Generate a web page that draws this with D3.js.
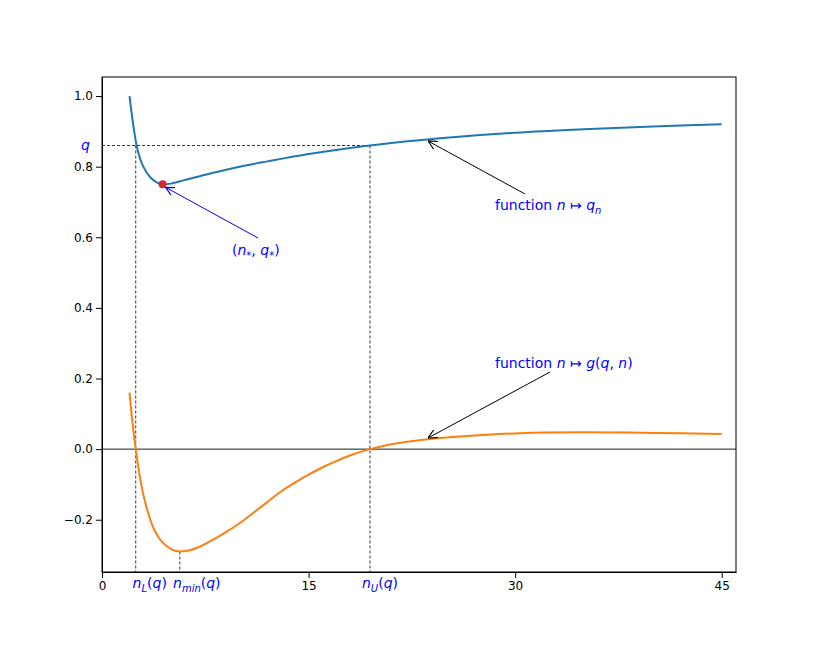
<!DOCTYPE html><html><head><meta charset="utf-8"><script src="https://d3js.org/d3.v7.min.js"></script>
<style>body{margin:0;background:#fff}text{font-family:"DejaVu Sans",sans-serif}</style></head><body><svg id="c" width="817" height="654"></svg>
<script>
const qN=[2,2.3,2.6,3,3.5,4,4.4,5,6,8,10,12,15,18,19.46,22,25,30,35,40,45];
const qV=[1.0,0.91,0.845,0.8,0.77,0.755,0.75,0.752,0.762,0.782,0.8,0.815,0.836,0.853,0.86,0.871,0.882,0.896,0.906,0.914,0.92];
const gN=[2,2.2,2.45,2.8,3.2,3.7,4.3,5,5.65,6.3,7,8,9,10,11,12,13,14,15,16,17,18,19.46,21,23,25,28,32,35,40,45];
const gV=[0.16,0.08,0,-0.09,-0.16,-0.22,-0.26,-0.283,-0.29,-0.287,-0.278,-0.258,-0.235,-0.21,-0.18,-0.15,-0.12,-0.095,-0.072,-0.052,-0.034,-0.018,0,0.014,0.025,0.033,0.041,0.047,0.048,0.046,0.043];
const xTicks=[0,15,30,45];
const yTicks=[-0.2,0,0.2,0.4,0.6,0.8,1.0];
const qLevel=0.86,nL=2.45,nU=19.46,nMin=5.65,gMin=-0.29,nStar=4.4,qStar=0.75;
const svg=d3.select("#c");
const L=102,R=736,T=77,B=572;
const x=d3.scaleLinear().domain([0,46.04]).range([L,R]);
const y=d3.scaleLinear().domain([-0.348,1.054]).range([B,T]);
const defs=svg.append("defs");
[["ab","blue"],["ak","black"]].forEach(([id,c])=>defs.append("marker").attr("id",id).attr("viewBox","0 0 10 10").attr("refX",10).attr("refY",5).attr("markerWidth",9).attr("markerHeight",9).attr("orient","auto").attr("markerUnits","userSpaceOnUse").append("path").attr("d","M0,0L10,5L0,10").attr("fill","none").attr("stroke",c).attr("stroke-width",1.3));
svg.append("g").attr("transform",`translate(0,${B})`).call(d3.axisBottom(x).tickValues(xTicks).tickFormat(d3.format("d")).tickSizeOuter(0)).call(g=>g.selectAll("text").attr("font-size",12).attr("fill","#000"));
svg.append("g").attr("transform",`translate(${L},0)`).call(d3.axisLeft(y).tickValues(yTicks).tickFormat(d=>d<0?"\u2212"+Math.abs(d).toFixed(1):d.toFixed(1)).tickSizeOuter(0)).call(g=>g.selectAll("text").attr("font-size",12).attr("fill","#000"));
svg.append("rect").attr("x",L).attr("y",T).attr("width",R-L).attr("height",B-T).attr("fill","none").attr("stroke","#000");
const dash=(x1,y1,x2,y2)=>svg.append("line").attr("x1",x1).attr("y1",y1).attr("x2",x2).attr("y2",y2).attr("stroke","#000").attr("stroke-width",0.8).attr("stroke-dasharray","3,2");
dash(L,y(qLevel),x(nU),y(qLevel));
dash(x(nL),y(qLevel),x(nL),B);
dash(x(nU),y(qLevel),x(nU),B);
dash(x(nMin),y(gMin),x(nMin),B);
svg.append("line").attr("x1",L).attr("x2",R).attr("y1",y(0)).attr("y2",y(0)).attr("stroke","#000").attr("stroke-width",0.9);
const line=d3.line().curve(d3.curveCatmullRom.alpha(0.5));
svg.append("path").attr("d",line(qN.map((n,i)=>[x(n),y(qV[i])]))).attr("fill","none").attr("stroke","#1f77b4").attr("stroke-width",2);
svg.append("path").attr("d",line(gN.map((n,i)=>[x(n),y(gV[i])]))).attr("fill","none").attr("stroke","#ff7f0e").attr("stroke-width",2);
svg.append("circle").attr("cx",x(nStar)).attr("cy",y(qStar)).attr("r",4).attr("fill","#d62728");
svg.append("line").attr("x1",258).attr("y1",238).attr("x2",x(nStar)+3).attr("y2",y(qStar)+3).attr("stroke","blue").attr("marker-end","url(#ab)");
svg.append("line").attr("x1",525).attr("y1",194).attr("x2",428).attr("y2",141).attr("stroke","#000").attr("marker-end","url(#ak)");
svg.append("line").attr("x1",550).attr("y1",372).attr("x2",428).attr("y2",438).attr("stroke","#000").attr("marker-end","url(#ak)");
const T2=(px,py,html,anchor="start")=>svg.append("text").attr("x",px).attr("y",py).attr("font-size",14).attr("fill","blue").attr("text-anchor",anchor).html(html);
T2(232,255,'(<tspan font-style="italic">n</tspan><tspan font-size="10" dy="4">*</tspan><tspan dy="-4">, </tspan><tspan font-style="italic">q</tspan><tspan font-size="10" dy="4">*</tspan><tspan dy="-4">)</tspan>');
T2(495,210,'function <tspan font-style="italic">n</tspan> ↦ <tspan font-style="italic">q</tspan><tspan font-size="10" dy="4" font-style="italic">n</tspan>');
T2(495,368,'function <tspan font-style="italic">n</tspan> ↦ <tspan font-style="italic">g</tspan>(<tspan font-style="italic">q</tspan>, <tspan font-style="italic">n</tspan>)');
T2(90,150,'<tspan font-style="italic">q</tspan>',"end");
T2(x(nL)+14,588,'<tspan font-style="italic">n</tspan><tspan font-size="10" dy="4" font-style="italic">L</tspan><tspan dy="-4">(</tspan><tspan font-style="italic">q</tspan>)',"middle");
T2(x(nMin)+17,588,'<tspan font-style="italic">n</tspan><tspan font-size="10" dy="4" font-style="italic">min</tspan><tspan dy="-4">(</tspan><tspan font-style="italic">q</tspan>)',"middle");
T2(x(nU)+10,588,'<tspan font-style="italic">n</tspan><tspan font-size="10" dy="4" font-style="italic">U</tspan><tspan dy="-4">(</tspan><tspan font-style="italic">q</tspan>)',"middle");
</script></body></html>
